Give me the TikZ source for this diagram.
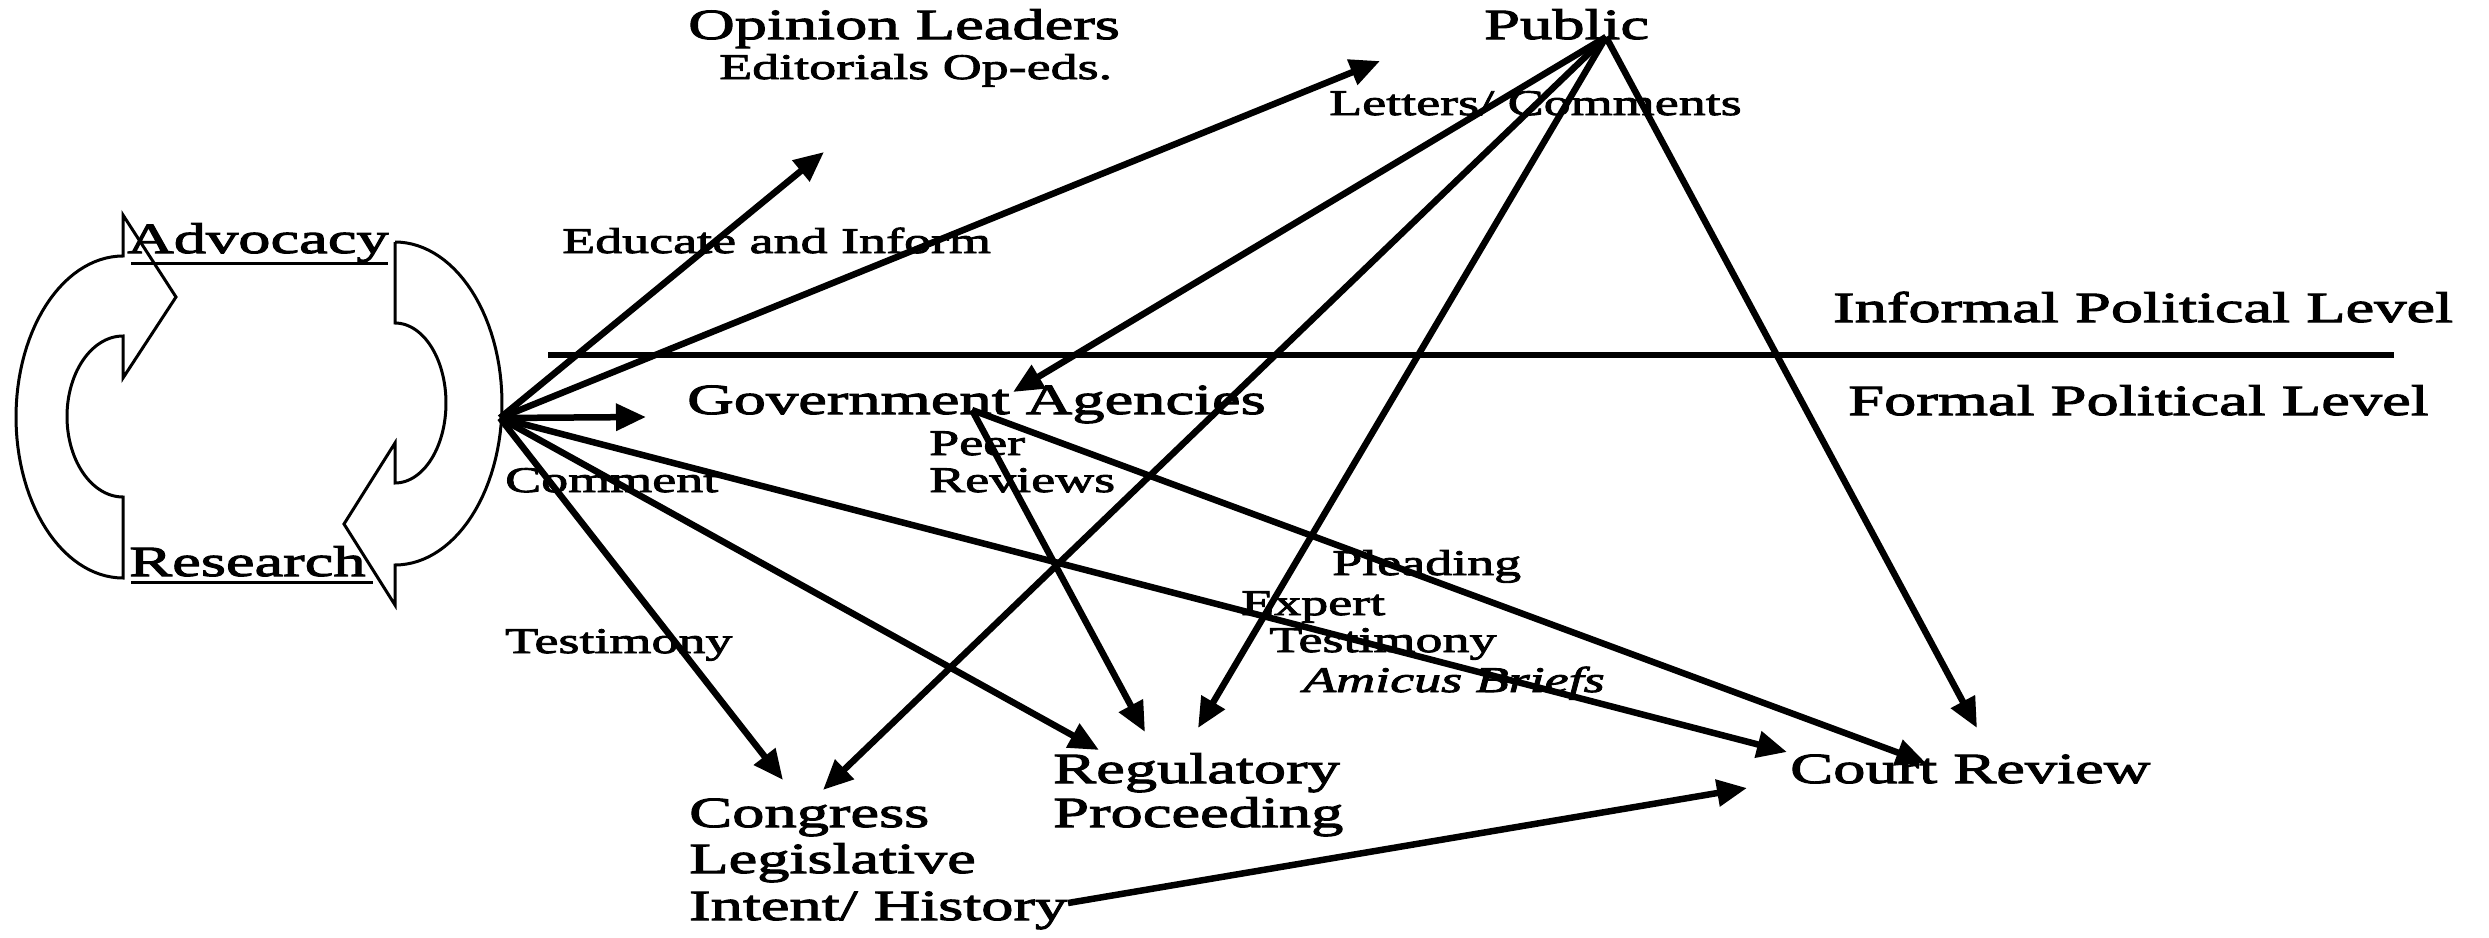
\documentclass[tikz,border=0pt]{standalone}
\usepackage{fontspec}
\setmainfont{Liberation Serif}[FakeStretch=1.5,FakeBold=2.5]
\usetikzlibrary{arrows.meta}
\begin{document}
\begin{tikzpicture}[x=1pt,y=-1pt,
  big/.style={font=\fontsize{43}{48}\selectfont, inner sep=0pt, anchor=base west},
  small/.style={font=\fontsize{36}{40}\selectfont, inner sep=0pt, anchor=base west},
  conn/.style={line width=6.5pt, -{Triangle[length=30pt,width=26pt]}},
  blockarrow/.style={line width=3pt, line join=miter},
  uline/.style={line width=3pt},
  levelline/.style={line width=6.5pt}]
\useasboundingbox (0,0) rectangle (2489,937);

% texts
\node[big] (opl) at (688,39) {Opinion Leaders};
\node[small] (edi) at (719,79) {Editorials Op-eds.};
\node[big] (pub) at (1484,39) {Public};
\node[small] (let) at (1329,115) {Letters/ Comments};
\node[small] (edu) at (562,253) {Educate and Inform};
\node[big] (adv) at (127,253) {Advocacy};
\node[big] (res) at (129,576) {Research};
\node[big] (inf) at (1833,322) {Informal Political Level};
\node[big] (for) at (1848,415) {Formal Political Level};
\node[big] (gov) at (687,414) {Government Agencies};
\node[small] (peer) at (929,455) {Peer};
\node[small] (rev) at (929,492) {Reviews};
\node[small] (com) at (505,492) {Comment};
\node[small] (testa) at (505,653) {Testimony};
\node[small] (plea) at (1332,575) {Pleading};
\node[small] (expt) at (1241,615) {Expert};
\node[small] (testb) at (1269,652) {Testimony};
\node[small] (ami) at (1303,692) {\itshape Amicus Briefs};
\node[big] (cong) at (689,827) {Congress};
\node[big] (legi) at (689,873) {Legislative};
\node[big] (intent) at (689,920) {Intent/ History};
\node[big] (regu) at (1053,783) {Regulatory};
\node[big] (proc) at (1053,827) {Proceeding};
\node[big] (court) at (1790,783) {Court Review};

% underlines
\coordinate (advL) at (131,263); \coordinate (advR) at (388,263);
\coordinate (resL) at (131,582); \coordinate (resR) at (373,582);
\draw[uline] (advL) -- (advR);
\draw[uline] (resL) -- (resR);

% level line
\coordinate (lvlL) at (548,355); \coordinate (lvlR) at (2394,355);
\draw[levelline] (lvlL) -- (lvlR);

% cycle block arrows
\draw[blockarrow] (123,578) -- plot[domain=90:270,samples=60] ({123+107*cos(\x)},{417+161*sin(\x)})
  -- (123,215) -- (176,297) -- (123,378) -- (123,336)
  -- plot[domain=90:270,samples=60] ({123+56*cos(\x)},{416.5-80.5*sin(\x)}) -- cycle;
\draw[blockarrow] (395,242) -- (395,323)
  -- plot[domain=-90:90,samples=60] ({395+51*cos(\x)},{403+80*sin(\x)})
  -- (395,443) -- (344,524) -- (395,605) -- (395,565)
  -- plot[domain=-90:90,samples=60] ({395+107*cos(\x)},{403.5-161.5*sin(\x)}) -- cycle;

% connector points
\coordinate (hub) at (500,418);
\coordinate (pubpt) at (1606,37);
\coordinate (govpt) at (972,410);
\coordinate (histpt) at (1068,903);
\coordinate (tOpl) at (824,152);
\coordinate (tPub) at (1380,61);
\coordinate (tGov) at (646,417);
\coordinate (tCongA) at (783,780);
\coordinate (tRegA) at (1099,750);
\coordinate (tCourtA) at (1787,752);
\coordinate (tGovB) at (1013,392);
\coordinate (tCongB) at (823,790);
\coordinate (tRegC) at (1198,728);
\coordinate (tCourtD) at (1977,728);
\coordinate (tRegB) at (1145,732);
\coordinate (tCourtC) at (1926,763);
\coordinate (tCourtB) at (1747,788);

% connectors
\draw[conn] (hub) -- (tOpl);
\draw[conn] (hub) -- (tPub);
\draw[conn] (hub) -- (tGov);
\draw[conn] (hub) -- (tCongA);
\draw[conn] (hub) -- (tRegA);
\draw[conn] (hub) -- (tCourtA);
\draw[conn] (pubpt) -- (tGovB);
\draw[conn] (pubpt) -- (tCongB);
\draw[conn] (pubpt) -- (tRegC);
\draw[conn] (pubpt) -- (tCourtD);
\draw[conn] (govpt) -- (tRegB);
\draw[conn] (govpt) -- (tCourtC);
\draw[conn] (histpt) -- (tCourtB);
\end{tikzpicture}
\end{document}
